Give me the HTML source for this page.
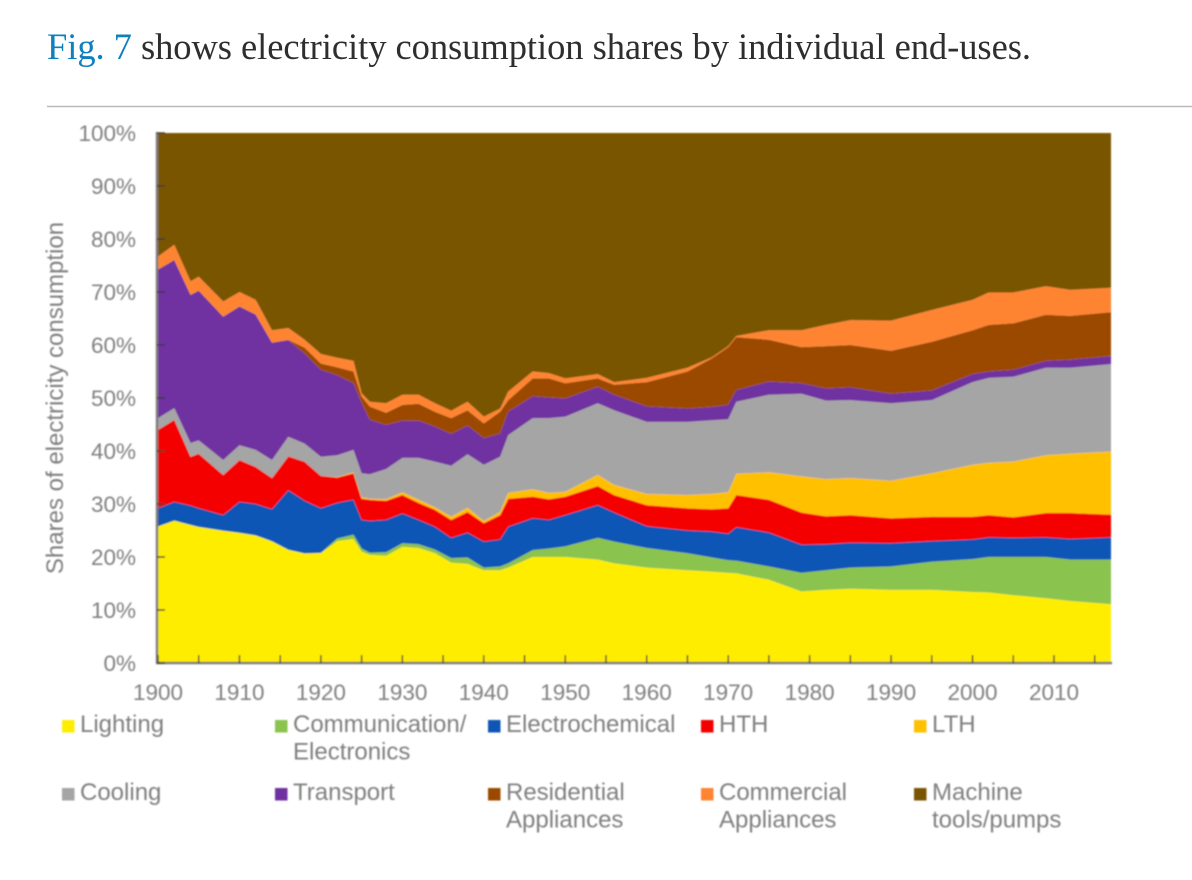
<!DOCTYPE html>
<html lang="en">
<head>
<meta charset="utf-8">
<title>Electricity consumption shares</title>
<style>
html,body{margin:0;padding:0;background:#fff;width:1192px;height:880px;overflow:hidden}
svg{display:block}
.tick-label{font-family:"Liberation Sans",sans-serif;font-size:22.5px;fill:#7f7f7f}
.axis-title{font-family:"Liberation Sans",sans-serif;font-size:24px;fill:#7f7f7f}
.legend-label{font-family:"Liberation Sans",sans-serif;font-size:24px;fill:#7f7f7f}
</style>
</head>
<body>
<svg id="page" width="1192" height="880" viewBox="0 0 1192 880" xmlns="http://www.w3.org/2000/svg">
  <defs><filter id="soft" x="-2%" y="-2%" width="104%" height="104%"><feGaussianBlur stdDeviation="0.7"/></filter></defs>
  <text x="47" y="59" textLength="984" lengthAdjust="spacing" font-family="'Liberation Serif',serif" font-size="36.5" fill="#2e2e2e"><tspan fill="#0f7fbd">Fig. 7</tspan> shows electricity consumption shares by individual end-uses.</text>
  <line x1="47" y1="106.5" x2="1192" y2="106.5" stroke="#b9b9b9" stroke-width="1.6"/>
  <g id="chart" filter="url(#soft)"></g>
</svg>
<script>
const years = [1900,1902,1904,1905,1908,1910,1912,1914,1916,1918,1920,1922,1924,1925,1926,1928,1930,1932,1934,1936,1938,1940,1942,1943,1946,1948,1950,1954,1956,1960,1965,1968,1970,1971,1975,1979,1982,1985,1990,1995,2000,2002,2005,2009,2012,2017];
const lighting = [25.7,26.8,26,25.6,24.9,24.5,24,22.9,21.3,20.6,20.7,23,23.4,21,20.4,20.2,21.9,21.7,20.7,18.9,18.7,17.5,17.5,18,20,20,20,19.5,18.8,18,17.5,17.2,17,16.9,15.7,13.5,13.8,14,13.8,13.8,13.4,13.3,12.8,12.2,11.7,11.1];
const communication = [.1,.1,.1,.1,.1,.1,.1,.1,.1,.1,.1,.5,.8,.6,.4,.7,.7,.7,.7,.9,1.2,.5,.7,.8,1.3,1.6,2,4.1,4.1,3.7,3.2,2.7,2.4,2.4,2.5,3.5,3.7,4,4.4,5.3,6.2,6.7,7.2,7.8,7.8,8.4];
const electrochemical = [3.4,3.5,3.6,3.5,2.9,5.8,5.9,6,11.2,9.9,8.4,6.7,6.6,5.4,6,6.1,5.6,4.6,4.3,3.8,4.7,4.9,5.1,6.9,6,5.4,5.9,6.2,5.5,4.1,4.3,4.9,5,6.3,6.4,5.3,4.9,4.7,4.4,3.9,3.7,3.7,3.6,3.7,3.9,4.2];
const hth = [14.8,15.5,9.2,10.3,7.6,7.9,7,5.9,6.4,7.4,6.1,4.8,5,4,4,3.6,3.5,3.2,3.2,3.4,3.9,3.5,4.6,5.3,4.1,3.9,3.5,3.6,3.3,4,4.2,4.2,4.8,6.1,6.2,6.1,5.3,5.2,4.7,4.6,4.3,4.2,3.9,4.6,4.9,4.3];
const lth = [0,0,0,0,0,0,0,0,0,0,0,.1,.2,.3,.2,.3,.5,.6,.5,.6,.8,.4,.6,1.1,1.4,1.2,.9,2.1,1.9,2.1,2.5,2.9,3,4,5.2,6.8,7,7,7.1,8.2,9.8,9.9,10.5,10.9,11.2,11.9];
const cooling = [2.2,2.2,2.6,2.5,2.8,2.8,3.2,3.4,3.7,3.4,3.6,4.1,4.2,4.5,4.6,5.7,6.5,7.9,8.6,9.6,10.1,10.6,10.4,10.9,13.4,14.1,14.2,13.5,14.1,13.6,13.8,13.9,13.8,13.6,14.6,15.6,14.8,14.7,14.6,13.8,15.6,16,16,16.5,16.2,16.5];
const transport = [28,27.9,27.9,28.2,27,26.1,25.5,22.1,18.2,17,16.4,15.1,12.6,13.2,10.3,8.3,7,7,6.6,6,5.4,5,4.4,4.4,4.1,3.9,3.4,3.1,2.9,2.9,2.5,2.5,2.7,2.2,2.5,2,2.3,2.4,1.8,1.8,1.5,1.2,1.3,1.3,1.5,1.5];
const residential = [.1,.1,.1,.1,.1,.1,.1,.1,.1,1.1,1.2,1.5,2.2,1.3,2.5,2.3,3,3.2,2.8,3,2.9,2.8,4.1,2.2,3.4,3.6,2.9,1.6,1.9,4.6,7,9.2,10.9,10,7.9,6.8,8,8,8.1,9.2,8.3,8.8,8.8,8.7,8.3,8.3];
const commercial = [2.4,2.8,2.5,2.6,2.8,2.7,2.7,2.3,2.2,1.5,1.8,1.8,2,.6,.9,1.8,1.9,1.7,1.6,1.4,1.6,1.3,.6,1.6,1.3,1,.9,.8,.5,.8,.7,.2,.2,.2,1.8,3.2,4,4.7,5.7,6,5.7,6.1,5.8,5.4,4.9,4.6];
const machine = [23.3,21.1,28,27.1,31.8,30,31.5,37.2,36.8,39,41.7,42.4,43,49.1,50.7,51,49.4,49.4,51,52.4,50.7,53.5,52,48.8,45,45.3,46.3,45.5,47,46.2,44.3,42.3,40.2,38.3,37.2,37.2,36.2,35.3,35.4,33.4,31.5,30.1,30.1,28.9,29.6,29.2];
const xTickYears = [1900,1905,1910,1915,1920,1925,1930,1935,1940,1945,1950,1955,1960,1965,1970,1975,1980,1985,1990,1995,2000,2005,2010,2015];
const xLabelYears = [1900,1910,1920,1930,1940,1950,1960,1970,1980,1990,2000,2010];
const yTicks = [0,10,20,30,40,50,60,70,80,90,100];

const seriesNames = ['lighting','communication','electrochemical','hth','lth','cooling','transport','residential-appliances','commercial-appliances','machine-tools'];
const seriesValues = [lighting,communication,electrochemical,hth,lth,cooling,transport,residential,commercial,machine];
const seriesColors = ['#ffed00','#8bc34f','#0b57b5','#f40000','#ffc000','#a5a5a5','#7030a0','#9c4a00','#ff8430','#7a5500'];

const SVGNS = 'http://www.w3.org/2000/svg';
const chart = document.getElementById('chart');
function xScale(year){ return 158 + (year - 1900) * (1111 - 158) / 117; }
function yScale(pct){ return 663 - pct * (663 - 133) / 100; }
function make(tag, attrs, parent){
  const el = document.createElementNS(SVGNS, tag);
  for (const k in attrs) el.setAttribute(k, attrs[k]);
  (parent || chart).appendChild(el);
  return el;
}

// stacked bands
let baseline = years.map(() => 0);
seriesValues.forEach((vals, s) => {
  const top = vals.map((v, i) => baseline[i] + v);
  const upper = years.map((y, i) => xScale(y).toFixed(1) + ',' + yScale(top[i]).toFixed(1));
  const lower = years.map((y, i) => xScale(y).toFixed(1) + ',' + yScale(baseline[i]).toFixed(1)).reverse();
  const band = make('path', {d: 'M' + upper.join('L') + 'L' + lower.join('L') + 'Z', fill: seriesColors[s]});
  
  
  baseline = top;
});

// axes
const yAxis = make('line', {x1: 157, y1: 132, x2: 157, y2: 664, stroke: '#7d7d7d', 'stroke-width': 2.4});


const xAxis = make('line', {x1: 156, y1: 663, x2: 1112, y2: 663, stroke: '#7d7d7d', 'stroke-width': 2.4});



yTicks.forEach(t => {
  const mark = make('line', {x1: 157, x2: 165, y1: yScale(t), y2: yScale(t), stroke: '#3d3a30', 'stroke-width': 1.4});
  
  
  const label = make('text', {x: 136, y: yScale(t) + 8, 'text-anchor': 'end', 'class': 'tick-label'});
  
  
  label.textContent = t + '%';
});
xTickYears.forEach(y => {
  const mark = make('line', {x1: xScale(y), x2: xScale(y), y1: 655, y2: 663, stroke: '#3d3a30', 'stroke-width': 1.4});
  
  
});
xLabelYears.forEach(y => {
  const label = make('text', {x: xScale(y), y: 700, 'text-anchor': 'middle', 'class': 'tick-label'});
  
  
  label.textContent = y;
});

const yTitle = make('text', {transform: 'translate(63,398) rotate(-90)', 'text-anchor': 'middle', 'class': 'axis-title'});


yTitle.textContent = 'Shares of electricity consumption';

// legend
const legendLabels = [['Lighting'],['Communication/','Electronics'],['Electrochemical'],['HTH'],['LTH'],['Cooling'],['Transport'],['Residential','Appliances'],['Commercial','Appliances'],['Machine','tools/pumps']];
const legendColumns = [62,275,488,701,914];
legendLabels.forEach((lines, i) => {
  const col = legendColumns[i % 5];
  const row = Math.floor(i / 5);
  const baseY = row === 0 ? 732 : 800;
  const entry = make('g', {});
  
  
  const swatch = make('rect', {x: col, y: baseY - 12, width: 12.5, height: 12.5, fill: seriesColors[i]}, entry);
  
  
  lines.forEach((line, k) => {
    const text = make('text', {x: col + 18, y: baseY + k * 27.5, 'class': 'legend-label'}, entry);
    
    
    text.textContent = line;
  });
});
</script>
</body>
</html>
